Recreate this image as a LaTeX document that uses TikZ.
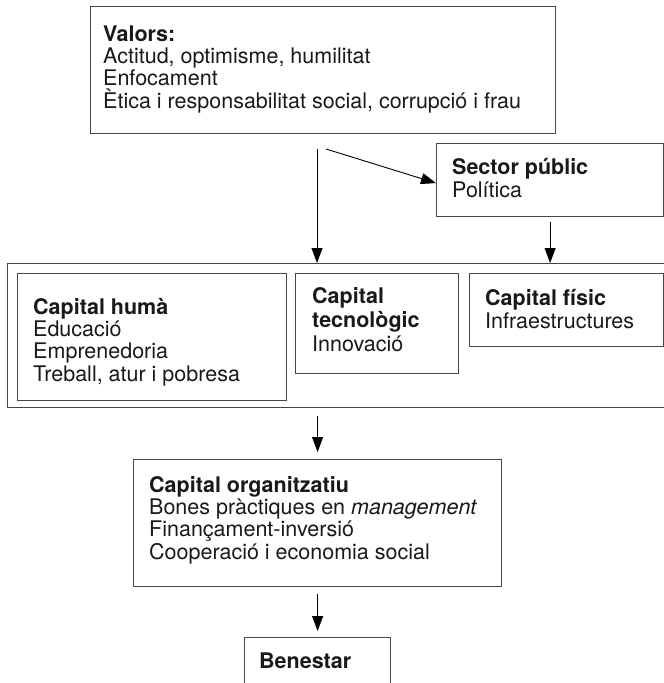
\documentclass[tikz,border=0pt]{standalone}
\usepackage{fontspec}
\setmainfont{TeX Gyre Heros}
\usetikzlibrary{arrows.meta}
\begin{document}
\begin{tikzpicture}[x=1pt,y=-1pt,
  box/.style={draw=black!72, line width=1.2pt, inner sep=0pt, anchor=north west},
  txt/.style={align=left, inner sep=0pt, anchor=base west, text=black!90, font=\fontsize{21.5}{22.4}\selectfont},
  arr/.style={draw=black, line width=0.9pt, -{Triangle[length=15pt,width=11pt]}}]
\clip (0,0) rectangle (664,683);
\fill[white] (0,0) rectangle (664,683);
% boxes
\node[box, minimum width=465pt, minimum height=127pt] (valors) at (90,6) {};
\node[box, minimum width=227pt, minimum height=73pt] (sector) at (436,143) {};
\node[box, minimum width=700pt, minimum height=144pt] (capitals) at (7,263) {};
\node[box, minimum width=269pt, minimum height=127pt] (huma) at (17,273) {};
\node[box, minimum width=163pt, minimum height=100pt] (tecno) at (295,273) {};
\node[box, minimum width=194pt, minimum height=73pt] (fisic) at (469,273) {};
\node[box, minimum width=368pt, minimum height=127pt] (org) at (133,459) {};
\node[box, minimum width=146pt, minimum height=70pt] (bene) at (244,637) {};
% texts (anchor = baseline of last line)
\node[txt] (valorsT) at (103,108.2) {\textbf{Valors:}\\Actitud, optimisme, humilitat\\Enfocament\\Ètica i responsabilitat social, corrupció i frau};
\node[txt] (sectorT) at (452,197.5) {\textbf{Sector públic}\\[1.1pt]Política};
\node[txt] (humaT) at (33,381.2) {\textbf{Capital humà}\\Educació\\Emprenedoria\\Treball, atur i pobresa};
\node[txt] (tecnoT) at (312,351) {\textbf{Capital}\\[1.6pt]\textbf{tecnològic}\\[1.6pt]Innovació};
\node[txt] (fisicT) at (485,328) {\textbf{Capital físic}\\[0.6pt]Infraestructures};
\node[txt] (orgT) at (149,559.2) {\textbf{Capital organitzatiu}\\Bones pràctiques en \textit{management}\\Finançament-inversió\\Cooperació i economia social};
\node[txt] (beneT) at (259,668) {\textbf{Benestar}};
% connectors
\coordinate (v1) at (317,149);
\coordinate (d1) at (326,149);
\draw[arr] (v1) -- (v1 |- capitals.north);
\draw[arr] (d1) -- ([yshift=-3pt]sector.west);
\draw[arr] ([yshift=-5pt]sector.south) -- (sector.south |- capitals.north);
\draw[arr] ([yshift=-8pt]org.north |- capitals.south) -- ([yshift=7pt]org.north);
\draw[arr] ([yshift=-7pt]org.south) -- ([yshift=6pt]bene.north);
\end{tikzpicture}
\end{document}
